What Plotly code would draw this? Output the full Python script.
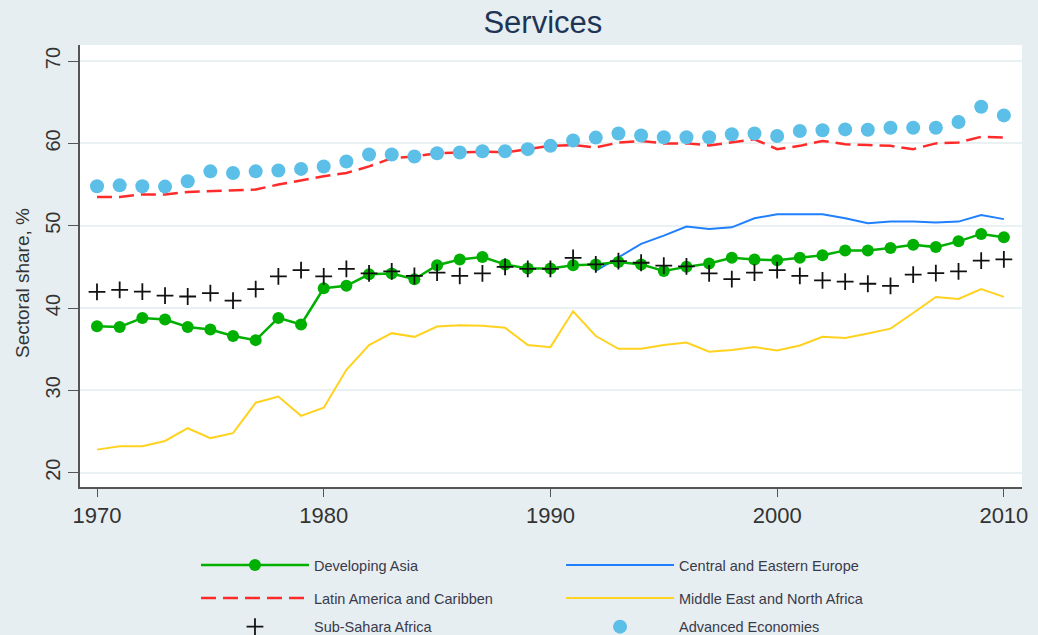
import plotly.graph_objects as go

# values (services share of employment, %)
years = list(range(1970, 2011))
cee_years = list(range(1992, 2011))

dev_asia = [37.8, 37.7, 38.8, 38.6, 37.7, 37.4, 36.6, 36.1, 38.8, 38.0,
            42.4, 42.7, 44.1, 44.2, 43.5, 45.2, 45.9, 46.2, 45.3, 44.8,
            44.8, 45.2, 45.3, 45.6, 45.3, 44.5, 45.0, 45.4, 46.1, 45.9,
            45.8, 46.1, 46.4, 47.0, 47.0, 47.3, 47.7, 47.4, 48.1, 49.0, 48.6]
cee = [44.5, 46.1, 47.8, 48.8, 49.9, 49.6, 49.8, 50.9, 51.4, 51.4,
       51.4, 50.9, 50.3, 50.5, 50.5, 50.4, 50.5, 51.3, 50.8]
latam = [53.5, 53.5, 53.8, 53.8, 54.1, 54.2, 54.3, 54.4, 55.0, 55.5,
         56.0, 56.4, 57.2, 58.2, 58.4, 58.8, 58.9, 59.0, 58.9, 59.3,
         59.7, 59.8, 59.5, 60.1, 60.3, 60.0, 60.0, 59.75, 60.1, 60.5,
         59.3, 59.7, 60.3, 59.9, 59.8, 59.7, 59.3, 60.0, 60.1, 60.8, 60.7]
mena = [22.8, 23.2, 23.2, 23.85, 25.4, 24.2, 24.8, 28.5, 29.25, 26.9,
        27.9, 32.5, 35.5, 36.95, 36.5, 37.75, 37.9, 37.85, 37.6, 35.5,
        35.25, 39.6, 36.6, 35.05, 35.05, 35.5, 35.8, 34.7, 34.9, 35.25,
        34.85, 35.45, 36.5, 36.35, 36.9, 37.5, 39.4, 41.35, 41.1, 42.3, 41.35]
ssa = [41.95, 42.2, 42.0, 41.5, 41.4, 41.8, 40.9, 42.3, 43.85, 44.6,
       43.85, 44.75, 44.2, 44.45, 43.9, 44.3, 43.9, 44.2, 45.0, 44.75,
       44.75, 46.1, 45.3, 45.7, 45.5, 45.15, 45.05, 44.2, 43.5, 44.3,
       44.6, 43.9, 43.35, 43.2, 42.95, 42.7, 44.05, 44.25, 44.45, 45.75, 45.9]
advanced = [54.8, 54.9, 54.8, 54.75, 55.4, 56.6, 56.4, 56.6, 56.7, 56.9,
            57.2, 57.8, 58.65, 58.65, 58.4, 58.8, 58.9, 59.05, 59.05, 59.3,
            59.7, 60.35, 60.7, 61.2, 60.95, 60.75, 60.75, 60.75, 61.1, 61.2,
            60.9, 61.5, 61.6, 61.7, 61.65, 61.9, 61.9, 61.9, 62.6, 64.45, 63.4]

x_ticks = [1970, 1980, 1990, 2000, 2010]
y_ticks = [20, 30, 40, 50, 60, 70]

BG = "#E6EEF1"
FONT = "Liberation Sans, Arial, sans-serif"

fig = go.Figure()

fig.add_trace(go.Scatter(
    x=years, y=mena, mode="lines", name="Middle East and North Africa",
    line=dict(color="#FFD21F", width=2), legend="legend4"))
fig.add_trace(go.Scatter(
    x=years, y=latam, mode="lines", name="Latin America and Caribben",
    line=dict(color="#FF2A2A", width=2.5, dash="15px,7px"), legend="legend3"))
fig.add_trace(go.Scatter(
    x=cee_years, y=cee, mode="lines", name="Central and Eastern Europe",
    line=dict(color="#1E80FF", width=2), legend="legend2"))
fig.add_trace(go.Scatter(
    x=years, y=dev_asia, mode="lines+markers", name="Developing Asia",
    line=dict(color="#00B000", width=2.5),
    marker=dict(color="#00B000", size=12), legend="legend"))
fig.add_trace(go.Scatter(
    x=years, y=ssa, mode="markers", name="Sub-Sahara Africa",
    marker=dict(symbol="cross-thin", size=12, line=dict(color="#111111", width=1.8)),
    legend="legend5"))
fig.add_trace(go.Scatter(
    x=years, y=advanced, mode="markers", name="Advanced Economies",
    marker=dict(color="#5BBFE8", size=14), legend="legend6"))

# one legend per entry (container coords) so the 2x3 grid matches the original
col_x = [0.1888, 0.5405]
row_y = [0.110, 0.058, 0.013]
legend_keys = ["legend", "legend2", "legend3", "legend4", "legend5", "legend6"]
legends = {}
for i, key in enumerate(legend_keys):
    legends[key] = dict(
        x=col_x[i % 2], y=row_y[i // 2], xref="container", yref="container",
        xanchor="left", yanchor="middle", orientation="h",
        bgcolor="rgba(0,0,0,0)", itemwidth=108,
        font=dict(family=FONT, size=14.5, color="#3A3A4A"),
    )

fig.update_layout(
    title=dict(text="Services", x=0.523, xref="container", y=0.965,
               xanchor="center", yanchor="middle",
               font=dict(family=FONT, size=31, color="#1F3556")),
    width=1038, height=635,
    margin=dict(l=80, r=16, t=45, b=148),
    paper_bgcolor=BG, plot_bgcolor="white",
    font=dict(family=FONT, color="#333333"),
    showlegend=True,
    **legends,
)

# y title sits a bit below the plot centre in the original, so use an annotation
fig.add_annotation(
    text="Sectoral share, %", textangle=-90, showarrow=False,
    xref="paper", yref="paper", x=-0.0616, y=0.4615,
    xanchor="center", yanchor="middle",
    font=dict(family=FONT, size=19, color="#333333"),
)

fig.update_xaxes(
    range=[1969.25, 2010.8], tickvals=x_ticks, showgrid=False, zeroline=False,
    showline=True, linecolor="#555555", linewidth=1.5, automargin=False,
    ticks="outside", ticklen=8, tickcolor="#555555",
    tickfont=dict(family=FONT, size=22, color="#333333"),
)
fig.update_yaxes(
    range=[18.26, 71.95], tickvals=y_ticks, tickangle=-90,
    showgrid=True, gridcolor="#E9F1F3", gridwidth=1.5, zeroline=False,
    showline=True, linecolor="#555555", linewidth=1.5, automargin=False,
    ticks="outside", ticklen=10, tickcolor="#555555",
    tickfont=dict(family=FONT, size=20, color="#333333"),
)

# drop the default 8px page margin so the figure sits at the window corner
fig.write_html("out.html", config={"displayModeBar": False},
               post_script="document.body.style.margin='0';")
